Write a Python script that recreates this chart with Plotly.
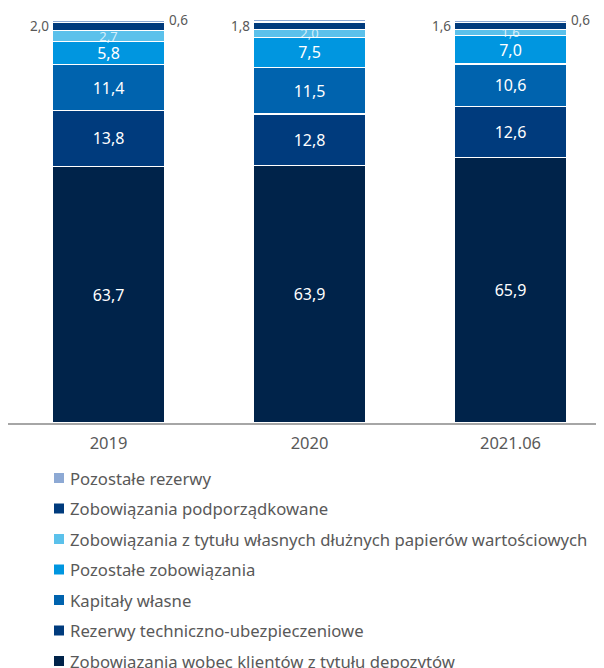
import plotly.graph_objects as go

categories = ["2019", "2020", "2021.06"]

series_names = [
    "Zobowiązania wobec klientów z tytułu depozytów",
    "Rezerwy techniczno-ubezpieczeniowe",
    "Kapitały własne",
    "Pozostałe zobowiązania",
    "Zobowiązania z tytułu własnych dłużnych papierów wartościowych",
    "Zobowiązania podporządkowane",
    "Pozostałe rezerwy",
]

deposits = [63.7, 63.9, 65.9]
tech_reserves = [13.8, 12.8, 12.6]
equity = [11.4, 11.5, 10.6]
other_liabilities = [5.8, 7.5, 7.0]
own_debt = [2.7, 2.0, 1.6]
subordinated = [2.0, 1.8, 1.6]
other_reserves = [0.6, 0.6, 0.6]

series_values = [deposits, tech_reserves, equity, other_liabilities,
                 own_debt, subordinated, other_reserves]

colors = ["#00234A", "#003B7D", "#0063AE", "#0096E0", "#5BC1EB", "#003B7D", "#8DA9D4"]

FONT = "Noto Sans"
GRAY = "#595959"

# page is rendered with an 8px body offset; layout numbers below account for it
W, H = 604, 668
ML, MT, MB = 0, 12, 253
PLOT_H = H - MT - MB


def px_x(page_x):
    return (page_x - 8 - ML) / (W - ML)


def px_y(page_y):
    return (H - MB - (page_y - 8)) / PLOT_H


fig = go.Figure()
for i, (name, vals, col) in enumerate(zip(series_names, series_values, colors)):
    if i < 4:
        tt = "%{y:.1f}"
        tfont = dict(color="white", size=16, family=FONT)
    elif i == 4:
        tt = "%{y:.1f}"
        tfont = dict(color="rgba(255,255,255,0.75)", size=13, family=FONT)
    else:
        tt = ""
        tfont = dict(color="white", size=12, family=FONT)
    fig.add_trace(go.Bar(
        x=categories, y=vals, name=name,
        marker=dict(color=col, line=dict(color="white", width=1.2)),
        texttemplate=tt, textposition="inside", insidetextanchor="middle",
        textfont=tfont, constraintext="none", cliponaxis=False,
        textangle=0, showlegend=False,
    ))

# outside labels for thin top segments
for j, cat in enumerate(categories):
    base = sum(s[j] for s in series_values[:5])
    fig.add_annotation(x=j, y=base + subordinated[j] / 2,
                       text=f"{subordinated[j]:.1f}".replace(".", ","),
                       showarrow=False, xanchor="right", xshift=-58,
                       font=dict(size=13.5, color=GRAY, family=FONT))
    top = base + subordinated[j] + other_reserves[j]
    fig.add_annotation(x=j, y=top, text=f"{other_reserves[j]:.1f}".replace(".", ","),
                       showarrow=False, xanchor="left", xshift=58,
                       font=dict(size=13.5, color=GRAY, family=FONT))

# legend (top entry = top segment)
for k, idx in enumerate(reversed(range(len(series_names)))):
    cy = 478 + 30.5 * k
    fig.add_shape(type="rect", xref="paper", yref="paper",
                  x0=px_x(54), x1=px_x(64), y0=px_y(cy + 5), y1=px_y(cy - 5),
                  fillcolor=colors[idx], line=dict(width=0))
    fig.add_annotation(xref="paper", yref="paper", x=px_x(68), y=px_y(cy),
                       xanchor="left", yanchor="middle", showarrow=False,
                       text=series_names[idx],
                       font=dict(size=16.7, color=GRAY, family=FONT))

fig.update_layout(
    width=W, height=H,
    barmode="stack", bargap=0.44,
    separators=", ",
    margin=dict(l=ML, r=0, t=MT, b=MB, autoexpand=False),
    plot_bgcolor="white", paper_bgcolor="white",
    font=dict(family=FONT, color=GRAY),
    xaxis=dict(type="category", range=[-0.5, -0.5 + (W - ML) / 201.0],
               showline=True, linecolor="#A6A6A6", linewidth=2,
               ticks="", tickfont=dict(size=16.5, color=GRAY, family=FONT),
               showgrid=False, ticklabelstandoff=4),
    yaxis=dict(range=[0, 100], visible=False, showgrid=False),
    showlegend=False,
)

fig.write_html("out.html")
